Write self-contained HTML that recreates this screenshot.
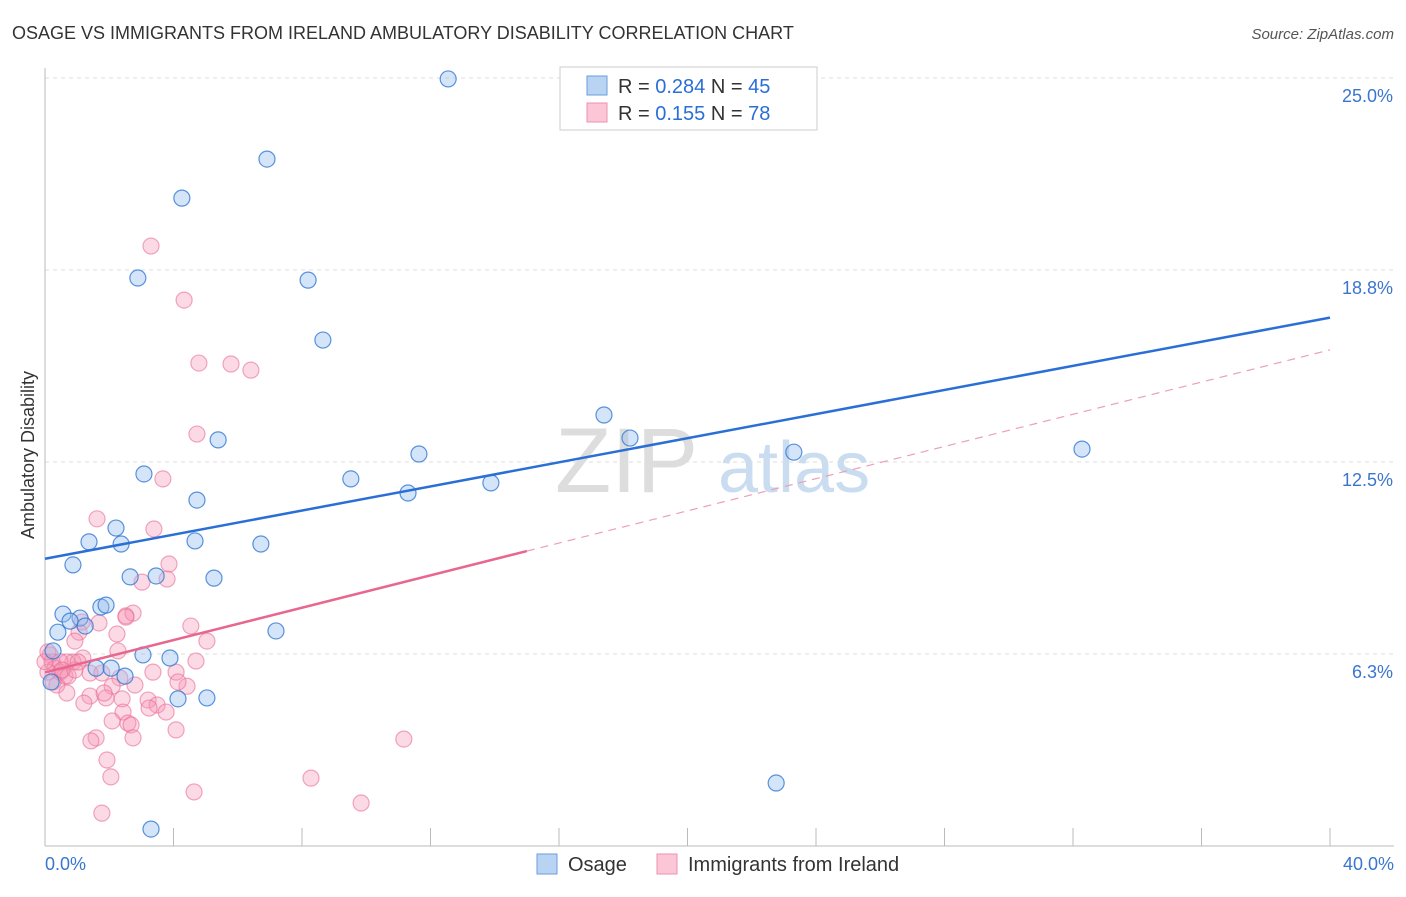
<!DOCTYPE html>
<html><head><meta charset="utf-8"><style>
body{margin:0;background:#fff;font-family:"Liberation Sans",sans-serif}
svg text{font-family:"Liberation Sans",sans-serif}
</style></head><body>
<svg id="chart" width="1406" height="892">
<text x="12" y="39" font-size="18" fill="#333">OSAGE VS IMMIGRANTS FROM IRELAND AMBULATORY DISABILITY CORRELATION CHART</text>
<text x="1394" y="39" font-size="15" fill="#555" font-style="italic" text-anchor="end">Source: ZipAtlas.com</text>
<text x="34" y="455" font-size="18" fill="#333" transform="rotate(-90 34 455)" text-anchor="middle">Ambulatory Disability</text>
<text x="555" y="492" font-size="92" fill="#ddd" font-family="Liberation Serif">ZIP</text>
<text x="718" y="492" font-size="72" fill="#c9dcf0">atlas</text>
<g id="grid"></g><g id="pts"></g><g id="lines"></g>
<rect x="560" y="67" width="257" height="63" fill="#fff" stroke="#ccc"/>
<rect x="587" y="76" width="20" height="19" fill="#b9d3f3" stroke="#6a9ee0"/>
<rect x="587" y="103" width="20" height="19" fill="#fbc7d6" stroke="#ef8fae"/>
<text x="618" y="93" font-size="20" fill="#333">R = <tspan fill="#2a6fd6">0.284</tspan>   N = <tspan fill="#2a6fd6">45</tspan></text>
<text x="618" y="120" font-size="20" fill="#333">R =  <tspan fill="#2a6fd6">0.155</tspan>   N = <tspan fill="#2a6fd6">78</tspan></text>
<rect x="537" y="854" width="20" height="20" fill="#b9d3f3" stroke="#6a9ee0"/>
<text x="568" y="871" font-size="20" fill="#333">Osage</text>
<rect x="657" y="854" width="20" height="20" fill="#fbc7d6" stroke="#ef8fae"/>
<text x="688" y="871" font-size="20" fill="#333">Immigrants from Ireland</text>
</svg>
<script>
const yTicks=[25.0,18.8,12.5,6.3];
const yTickVals=[25,18.75,12.5,6.25];
const xLabels=["0.0%","40.0%"];
const osageX=[12.55,6.91,4.26,2.89,8.19,8.65,17.4,5.39,18.21,11.64,23.31,32.28,3.08,9.52,11.3,13.88,4.73,2.21,1.37,2.37,4.67,6.72,0.87,2.65,3.46,5.26,0.56,1.74,1.9,1.09,0.78,1.25,0.40,7.19,0.25,3.05,3.89,1.59,2.06,2.49,0.19,4.14,5.04,22.76,3.3];
const osageY=[24.97,22.36,21.09,18.49,18.42,16.47,14.03,13.22,13.28,12.76,12.82,12.92,12.11,11.95,11.49,11.82,11.26,10.35,9.9,9.83,9.93,9.83,9.15,8.76,8.79,8.72,7.55,7.78,7.84,7.42,7.32,7.16,6.96,7.0,6.35,6.22,6.12,5.79,5.79,5.53,5.34,4.79,4.82,2.05,0.55];
const irlX=[3.3,4.33,4.79,5.79,6.41,4.73,3.67,1.62,3.39,3.86,3.8,3.02,2.52,2.74,2.52,1.68,1.15,4.54,1.06,2.24,5.04,0.93,4.7,1.18,0.87,0.68,0.16,0.22,0.31,0.47,0.62,0.09,0.37,0.72,1.4,1.77,2.33,3.36,4.08,4.42,4.14,2.09,0.68,1.4,1.9,2.4,1.21,1.84,3.21,3.49,3.24,3.77,2.43,2.09,2.58,2.68,4.08,1.59,1.43,2.74,11.17,1.93,2.05,8.28,4.64,9.84,1.77,0.25,0.47,0.0,0.93,2.27,2.8,0.09,0.53,1.03];
const irlY=[19.53,17.77,15.72,15.69,15.49,13.41,11.95,10.65,10.32,9.18,8.69,8.59,7.49,7.58,7.45,7.26,7.29,7.16,6.96,6.9,6.67,6.67,6.02,6.12,5.99,5.99,6.22,5.99,5.79,5.66,5.53,5.66,5.24,5.53,5.63,5.63,5.47,5.66,5.66,5.2,5.34,5.2,4.98,4.88,4.82,4.79,4.65,4.98,4.75,4.59,4.49,4.36,4.36,4.07,4.0,3.94,3.78,3.52,3.42,3.52,3.48,2.8,2.25,2.21,1.76,1.4,1.07,5.34,6.0,6.0,5.73,6.35,5.24,6.32,5.73,5.99];
const osageTrend=[0.0,9.35,40.0,17.2];
const irlTrend=[0.0,5.65,15.0,9.6,40.0,16.15];
const sx=v=>45+v*32.125, sy=v=>846-v*30.72;
const NS="http://www.w3.org/2000/svg";
function mk(p,t,a){const e=document.createElementNS(NS,t);for(const k in a)e.setAttribute(k,a[k]);p.appendChild(e);return e;}
const g=document.getElementById('grid');
yTickVals.forEach((v,i)=>{
 const l=mk(g,'line',{x1:45,x2:1394,y1:sy(v),y2:sy(v),stroke:'#ddd','stroke-dasharray':'4,4'});
 
 
 const t=mk(g,'text',{x:1393,y:sy(v)+24,'font-size':18,fill:'#3a75d0','text-anchor':'end'});
 t.textContent=yTicks[i].toFixed(1)+'%';
 
 
});
const ax=mk(g,'line',{x1:45,x2:1394,y1:846,y2:846,stroke:'#bbb'});


const ay=mk(g,'line',{x1:45,x2:45,y1:68,y2:846,stroke:'#bbb'});


for(let i=1;i<=10;i++){const tk=mk(g,'line',{x1:sx(i*4),x2:sx(i*4),y1:828,y2:846,stroke:'#bbb'});
 
 }
[[0,'start',45],[40,'end',1394]].forEach((d,i)=>{const t=mk(g,'text',{x:d[2],y:870,'font-size':18,fill:'#3a75d0','text-anchor':d[1]});t.textContent=xLabels[i];
 
 });
const P=document.getElementById('pts');
irlX.forEach((x,i)=>{const c=mk(P,'circle',{cx:sx(x),cy:sy(irlY[i]),r:8,fill:'rgba(246,150,180,0.35)',stroke:'rgba(232,110,150,0.6)','stroke-width':1.2});
 
 });
osageX.forEach((x,i)=>{const c=mk(P,'circle',{cx:sx(x),cy:sy(osageY[i]),r:8,fill:'rgba(150,190,240,0.4)',stroke:'rgba(50,120,210,0.8)','stroke-width':1.2});
 
 });
const L=document.getElementById('lines');
const bl=mk(L,'line',{x1:sx(osageTrend[0]),y1:sy(osageTrend[1]),x2:sx(osageTrend[2]),y2:sy(osageTrend[3]),stroke:'#2a6fd6','stroke-width':2.5});


const pl=mk(L,'line',{x1:sx(irlTrend[0]),y1:sy(irlTrend[1]),x2:sx(irlTrend[2]),y2:sy(irlTrend[3]),stroke:'#e8678f','stroke-width':2.5});


const pd=mk(L,'line',{x1:sx(irlTrend[2]),y1:sy(irlTrend[3]),x2:sx(irlTrend[4]),y2:sy(irlTrend[5]),stroke:'#eba0b6','stroke-width':1.2,'stroke-dasharray':'8,6'});


</script>
</body></html>
